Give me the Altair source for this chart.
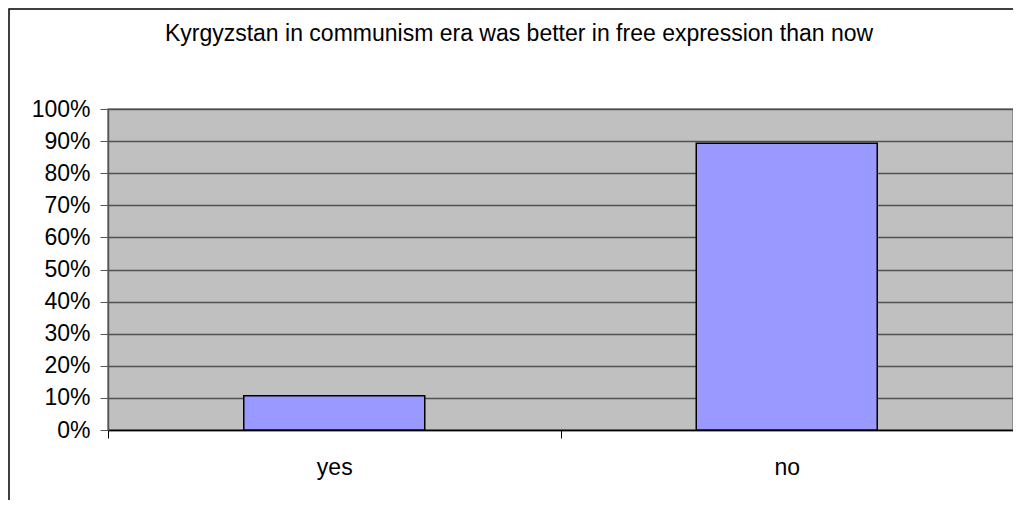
import altair as alt
import pandas as pd

categories = ["yes", "no"]
shares = [0.107, 0.893]
y_ticks = [0.0, 0.1, 0.2, 0.3, 0.4, 0.5, 0.6, 0.7, 0.8, 0.9, 1.0]
title_text = "Kyrgyzstan in communism era was better in free expression than now"

FONT = "Liberation Sans"
FS = 23

df = pd.DataFrame({"answer": categories, "share": shares})

bars = alt.Chart(df).mark_bar(
    color="#9999FF", stroke="#000000", strokeWidth=1.5, width=alt.RelativeBandSize(0.4)
).encode(
    x=alt.X(
        "answer:N",
        sort=categories,
        title=None,
        scale=alt.Scale(paddingInner=0, paddingOuter=0),
        axis=alt.Axis(
            labelAngle=0,
            tickBand="extent",
            tickSize=8,
            tickColor="#000000",
            domainColor="#000000",
            domainWidth=1.5,
            labelPadding=18,
            labelFontSize=FS,
            labelFont=FONT,
            labelColor="#000000",
            grid=False,
        ),
    ),
    y=alt.Y(
        "share:Q",
        title=None,
        scale=alt.Scale(domain=[0, 1]),
        axis=alt.Axis(
            format=".0%",
            values=y_ticks,
            tickSize=8,
            tickColor="#555555",
            domainColor="#555555",
            domainWidth=1.5,
            grid=True,
            gridColor="#505050",
            gridWidth=1.5,
            labelPadding=10,
            labelFontSize=FS,
            labelFont=FONT,
            labelColor="#000000",
        ),
    ),
)

border = alt.Chart(pd.DataFrame({"k": [0]})).mark_rect(
    fillOpacity=0, stroke="#000000", strokeWidth=1.5
).encode(
    x=alt.value(-99),
    x2=alt.value(1200),
    y=alt.value(-100),
    y2=alt.value(600),
)

title = alt.Chart(pd.DataFrame({"t": [title_text]})).mark_text(
    font=FONT, fontSize=FS, color="#000000", align="center", baseline="alphabetic"
).encode(
    text="t:N",
    x=alt.value(411),
    y=alt.value(-68),
)

chart = alt.layer(border, bars, title).properties(
    width=905,
    height=321,
    autosize=alt.AutoSizeParams(type="none"),
    padding={"left": 100, "top": 101, "right": 0, "bottom": 70},
    background="#ffffff",
).configure_view(
    fill="#C0C0C0", stroke="#808080", strokeWidth=1.5
)

chart.save("out.html", embed_options={"renderer": "svg", "actions": False})
